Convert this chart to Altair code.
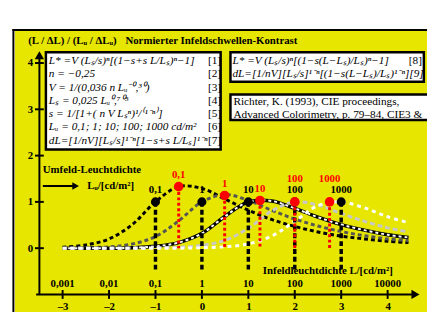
import altair as alt
import pandas as pd

# ---------------- data ----------------
log_L = [-3, -2.5, -2, -1.5, -1, -0.5, 0, 0.5, 1, 1.5, 2, 2.5, 3, 3.5, 4, 4.45]
curve_lu01 = [0.02, 0.07, 0.20, 0.51, 1.00, 1.33, 1.29, 1.06, 0.82, 0.62, 0.47, 0.35, 0.26, 0.20, 0.15, 0.12]
curve_lu1 = [0.00, 0.01, 0.03, 0.09, 0.25, 0.59, 1.00, 1.16, 1.03, 0.82, 0.63, 0.48, 0.36, 0.27, 0.20, 0.16]
curve_lu10 = [0.00, 0.00, 0.00, 0.01, 0.04, 0.12, 0.32, 0.69, 1.00, 1.02, 0.86, 0.67, 0.51, 0.39, 0.29, 0.23]
curve_lu100 = [0.00, 0.00, 0.00, 0.00, 0.01, 0.02, 0.06, 0.17, 0.43, 0.80, 1.00, 0.93, 0.75, 0.58, 0.44, 0.35]
curve_lu1000 = [0.00, 0.00, 0.00, 0.00, 0.00, 0.00, 0.01, 0.03, 0.09, 0.26, 0.58, 0.92, 1.00, 0.87, 0.68, 0.55]

lu_names = ["0,1", "1", "10", "100", "1000"]
lu_log = [-1, 0, 1, 2, 3]
lu_norm = [1, 1, 1, 1, 1]
red_x = [-0.5, 0.49, 1.25, 2.0, 2.75]
red_y = [1.33, 1.14, 1.03, 1.0, 1.0]

x_ticks = [-3, -2, -1, 0, 1, 2, 3, 4]
x_top_labels = ["0,001", "0,01", "0,1", "1", "10", "100", "1000", "10000"]
y_ticks = [0, 1, 2, 3, 4]

eq_left = [
    "L* =V (Lₛ/s)ⁿ[(1−s+s L/Lₛ)ⁿ−1]",
    "n = −0,25",
    "V = 1/(0,036 n Lᵤ⁻⁰,³⁰)",
    "Lₛ = 0,025 Lᵤ⁰,⁷⁰⁵",
    "s = 1/[1+( n V Lₛⁿ)¹/⁽¹⁻ⁿ⁾]",
    "Lᵤ = 0,1; 1; 10; 100; 1000 cd/m²",
    "dL=[1/nV][Lₛ/s]¹⁻ⁿ[1−s+s L/Lₛ]¹⁻ⁿ",
]
eq_tags = ["[1]", "[2]", "[3]", "[4]", "[5]", "[6]", "[7]"]
eq_right = ["L* =V (Lₛ/s)ⁿ[(1−s(L−Lₛ)/Lₛ)ⁿ−1]", "dL=[1/nV][Lₛ/s]¹⁻ⁿ[(1−s(L−Lₛ)/Lₛ)¹⁻ⁿ][9]"]
ref_lines = ["Richter, K. (1993), CIE proceedings,", "Advanced Colorimetry, p. 79–84, CIE3 &"]

# ---------------- styling ----------------
SERIF = "Liberation Serif"
YEL = "#e6e600"
xs = alt.Scale(domain=[-3.5, 4.7], nice=False, zero=False)
ys = alt.Scale(domain=[-1.0, 4.3], nice=False, zero=False)

# the same axis definition is given in every layer so that they merge into one
xaxis = alt.Axis(values=x_ticks, orient="bottom", domain=False, grid=False, ticks=False,
                 labelFont=SERIF, labelFontSize=11, labelFontWeight="bold", labelColor="black",
                 labelPadding=6, title=None, zindex=2, labelFlush=False, labelOverlap=False,
                 labelExpr="datum.value < 0 ? '–' + abs(datum.value) : '' + datum.value")
yaxis = alt.Axis(values=y_ticks, orient="left", domain=False, grid=False, ticks=False,
                 labelFont=SERIF, labelFontSize=11, labelFontWeight="bold", labelColor="black",
                 labelPadding=7, title=None, zindex=2)


def X(f="x"):
    return alt.X(f"{f}:Q", scale=xs, axis=xaxis)


def Y(f="y"):
    return alt.Y(f"{f}:Q", scale=ys, axis=yaxis)


one = pd.DataFrame({"k": [0]})

# background panel and its border
bg = alt.Chart(one).mark_rect(color=YEL).encode(
    x=alt.value(-25), x2=alt.value(395), y=alt.value(-18.5), y2=alt.value(268))
border_l = alt.Chart(one).mark_rule(color="black", strokeWidth=2).encode(
    x=alt.value(-26.5), y=alt.value(-20.5), y2=alt.value(268))
border_t = alt.Chart(one).mark_rule(color="black", strokeWidth=2).encode(
    x=alt.value(-27.5), x2=alt.value(395), y=alt.value(-19.5))

# title
title_df = pd.DataFrame({"x": [-3.74, -1.647], "y": [4.467, 4.467],
                         "t": ["(L / ΔL) / (Lᵤ / ΔLᵤ)", "Normierter Infeldschwellen-Kontrast"]})
title = alt.Chart(title_df).mark_text(font=SERIF, fontSize=11, fontWeight="bold", align="left",
                                      baseline="middle", color="black").encode(x=X(), y=Y(), text="t:N")

# boxes
box_df = pd.DataFrame({"x": [-3.36, 0.615, 0.615], "x2": [0.404, 4.78, 5.2],
                       "y": [4.234, 4.234, 3.32], "y2": [2.13, 3.596, 2.77]})
boxes = alt.Chart(box_df).mark_rect(fill="white", stroke="black", strokeWidth=2.5).encode(
    x=X(), x2="x2:Q", y=Y(), y2="y2:Q")

eq_y = [4.042 - i * 0.2866 for i in range(len(eq_left))]
eqL = alt.Chart(pd.DataFrame({"x": [-3.297] * len(eq_left), "y": eq_y, "t": eq_left})).mark_text(
    font=SERIF, fontSize=11.5, fontStyle="italic", align="left", baseline="middle", color="black"
).encode(x=X(), y=Y(), text="t:N")
eqT = alt.Chart(pd.DataFrame({"x": [0.129] * len(eq_tags), "y": eq_y, "t": eq_tags})).mark_text(
    font=SERIF, fontSize=11.5, align="left", baseline="middle", color="black"
).encode(x=X(), y=Y(), text="t:N")
eqR = alt.Chart(pd.DataFrame({"x": [0.658, 0.658], "y": [4.042, 3.766], "t": eq_right})).mark_text(
    font=SERIF, fontSize=11.5, fontStyle="italic", align="left", baseline="middle", color="black"
).encode(x=X(), y=Y(), text="t:N")
eq8 = alt.Chart(pd.DataFrame({"x": [4.739], "y": [4.042], "t": ["[8]"]})).mark_text(
    font=SERIF, fontSize=11.5, align="right", baseline="middle", color="black"
).encode(x=X(), y=Y(), text="t:N")
refs = alt.Chart(pd.DataFrame({"x": [0.679, 0.679], "y": [3.15, 2.874], "t": ref_lines})).mark_text(
    font=SERIF, fontSize=11.5, align="left", baseline="middle", color="black"
).encode(x=X(), y=Y(), text="t:N")

# axis lines, crossing ticks and arrow heads
x_line = alt.Chart(pd.DataFrame({"x": [-3.57], "x2": [4.55], "y": [-1.0]})).mark_rule(
    color="black", strokeWidth=2).encode(x=X(), x2="x2:Q", y=Y())
y_line = alt.Chart(pd.DataFrame({"x": [-3.5], "y": [-1.0], "y2": [4.2]})).mark_rule(
    color="black", strokeWidth=2).encode(x=X(), y=Y(), y2="y2:Q")
x_tk = alt.Chart(pd.DataFrame({"x": x_ticks, "y": [-1.0] * len(x_ticks)})).mark_tick(
    color="black", orient="vertical", size=9, thickness=2, opacity=1).encode(x=X(), y=Y())
y_tk = alt.Chart(pd.DataFrame({"x": [-3.5] * len(y_ticks), "y": y_ticks})).mark_tick(
    color="black", orient="horizontal", size=9, thickness=2, opacity=1).encode(x=X(), y=Y())
head_r = alt.Chart(pd.DataFrame({"x": [4.6], "y": [-1.0]})).mark_point(
    shape="triangle-right", size=90, filled=True, color="black", opacity=1).encode(x=X(), y=Y())
head_u = alt.Chart(pd.DataFrame({"x": [-3.5], "y": [4.17]})).mark_point(
    shape="triangle-up", size=90, filled=True, color="black", opacity=1).encode(x=X(), y=Y())

top_lab = alt.Chart(pd.DataFrame({"x": x_ticks, "y": [-0.78] * len(x_ticks), "t": x_top_labels})).mark_text(
    font=SERIF, fontSize=11, fontWeight="bold", align="center", baseline="middle", color="black"
).encode(x=X(), y=Y(), text="t:N")


# curves
def curve(vals, color, dash, width=3):
    df = pd.DataFrame({"x": log_L, "y": vals})
    return alt.Chart(df).mark_line(color=color, strokeDash=dash, strokeWidth=width,
                                   interpolate="catmull-rom").encode(x=X(), y=Y())


c1 = curve(curve_lu01, "black", [4, 3])
c2 = curve(curve_lu1, "#555555", [4, 3])
c3a = alt.Chart(pd.DataFrame({"x": log_L, "y": curve_lu10})).mark_line(
    color="black", strokeWidth=3.5, interpolate="catmull-rom").encode(x=X(), y=Y())
c3b = curve(curve_lu10, "white", [3, 3], 2)
c4 = curve(curve_lu100, "#c8c8c8", [5, 3])
c5 = curve(curve_lu1000, "white", [4, 4])

# vertical lines
blk_df = pd.DataFrame({"x": lu_log, "y": lu_norm, "name": lu_names})
blk_df["y0"] = -0.5
vblack = alt.Chart(blk_df).mark_rule(color="black", strokeWidth=3.5, strokeDash=[5, 3]).encode(
    x=X(), y=Y(), y2="y0:Q")
red_df = pd.DataFrame({"x": red_x, "y": red_y, "name": lu_names})
red_df["y0"] = 0.0
vred = alt.Chart(red_df).mark_rule(color="#ff0000", strokeWidth=3, strokeDash=[3, 2.5]).encode(
    x=X(), y=Y(), y2="y0:Q")

dots_b = alt.Chart(blk_df).mark_circle(color="black", size=85, opacity=1).encode(x=X(), y=Y())
dots_r = alt.Chart(red_df).mark_circle(color="#ff0000", size=95, opacity=1).encode(x=X(), y=Y())

lab_b = alt.Chart(blk_df).mark_text(font=SERIF, fontSize=11, fontWeight="bold", color="black",
                                    dy=-12, baseline="middle").encode(x=X(), y=Y(), text="name:N")
lab_r1 = alt.Chart(red_df.iloc[:3]).mark_text(font=SERIF, fontSize=11, fontWeight="bold", color="#ff0000",
                                              dy=-12, baseline="middle").encode(x=X(), y=Y(), text="name:N")
lab_r2 = alt.Chart(red_df.iloc[3:]).mark_text(font=SERIF, fontSize=11, fontWeight="bold", color="#ff0000",
                                              dy=-23, baseline="middle").encode(x=X(), y=Y(), text="name:N")

# annotations
umf = alt.Chart(pd.DataFrame({"x": [-3.426, -2.472], "y": [1.684, 1.344],
                              "t": ["Umfeld-Leuchtdichte", "Lᵤ/[cd/m²]"]})).mark_text(
    font=SERIF, fontSize=11, fontWeight="bold", align="left", baseline="middle", color="black"
).encode(x=X(), y=Y(), text="t:N")
umf_line = alt.Chart(pd.DataFrame({"x": [-3.426], "x2": [-2.75], "y": [1.344]})).mark_rule(
    color="black", strokeWidth=2).encode(x=X(), x2="x2:Q", y=Y())
umf_head = alt.Chart(pd.DataFrame({"x": [-2.72], "y": [1.344]})).mark_point(
    shape="triangle-right", size=60, filled=True, color="black", opacity=1).encode(x=X(), y=Y())
inf = alt.Chart(pd.DataFrame({"x": [1.313], "y": [-0.503], "t": ["Infeldleuchtdichte L/[cd/m²]"]})).mark_text(
    font=SERIF, fontSize=11, fontWeight="bold", align="left", baseline="middle", color="black"
).encode(x=X(), y=Y(), text="t:N")

chart = alt.layer(
    bg, border_l, border_t, title, boxes, eqL, eqT, eqR, eq8, refs,
    c1, c2, c3a, c3b, c4, c5,
    vblack, vred, dots_b, dots_r, lab_b, lab_r1, lab_r2,
    x_line, y_line, x_tk, y_tk, head_r, head_u, top_lab, umf, umf_line, umf_head, inf,
).properties(
    width=388, height=250,
    padding={"left": 32, "top": 39, "right": 7, "bottom": 18},
    autosize=alt.AutoSizeParams(type="none"),
).configure_view(strokeWidth=0)

chart.save("out.html", embed_options={"renderer": "svg", "actions": False})
